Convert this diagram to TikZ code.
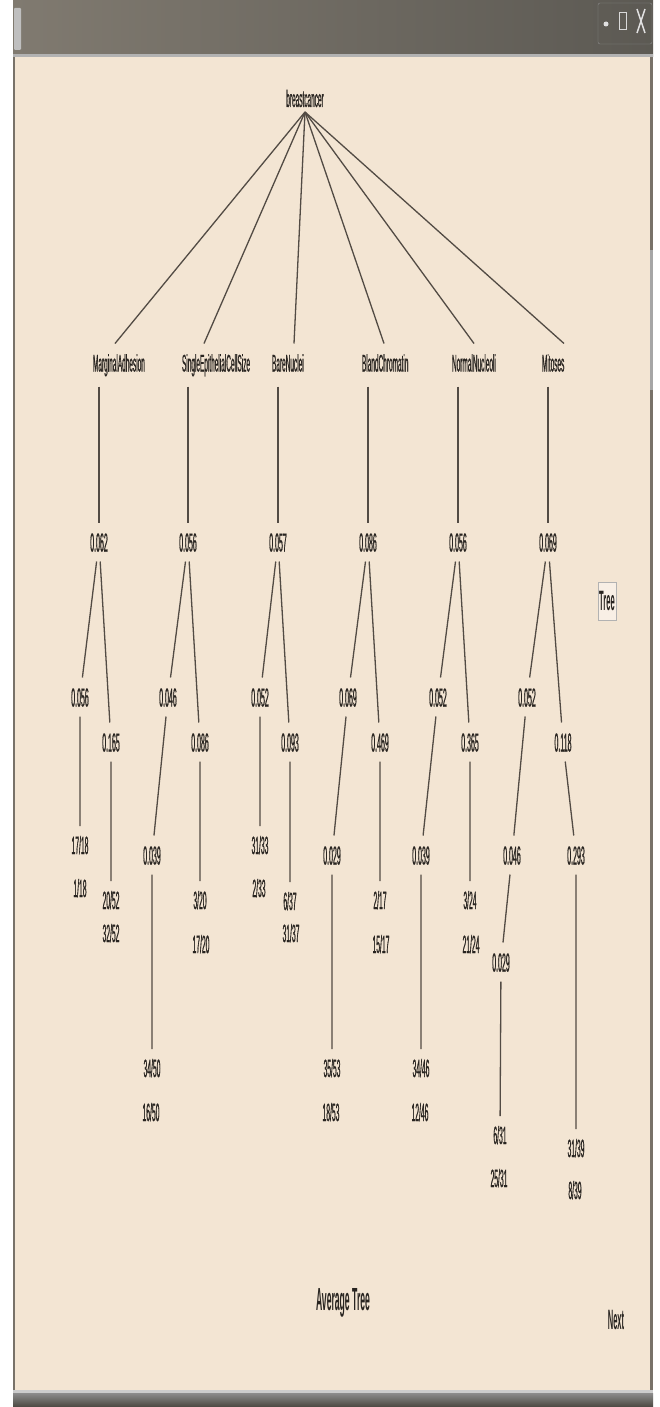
\documentclass[tikz,border=0pt]{standalone}
\usepackage{fontspec}
\setmainfont{Liberation Sans}
\newfontfamily\narrowsans[FakeStretch=0.27,FakeBold=0.6]{Liberation Sans}
\newfontfamily\narrowbold[FakeStretch=0.27]{Liberation Sans Bold}
\definecolor{panel}{RGB}{243,229,211}
\definecolor{ink}{RGB}{40,36,32}
\definecolor{wire}{RGB}{82,75,68}
\definecolor{chromeL}{RGB}{128,122,112}
\definecolor{chromeD}{RGB}{74,71,64}
\definecolor{edgegray}{RGB}{120,114,105}

\begin{document}
\begin{tikzpicture}[x=1pt,y=-1pt,
  top/.style={inner sep=0pt,outer sep=5pt,text height=18pt,text depth=0pt,text=ink,font=\narrowsans\fontsize{24}{26}\selectfont},
  attr/.style={anchor=west,inner sep=0pt,outer xsep=0pt,outer ysep=10pt,text height=18pt,text depth=5pt,text=ink,font=\narrowsans\fontsize{24}{26}\selectfont},
  val/.style={inner sep=0pt,outer sep=10pt,text height=19pt,text depth=0pt,text=ink,font=\narrowsans\fontsize{26}{28}\selectfont},
  leaf/.style={inner sep=0pt,outer sep=10pt,text height=18pt,text depth=0pt,text=ink,font=\narrowsans\fontsize{25}{27}\selectfont},
  wire/.style={draw=wire,line width=1.3pt}]
\path[use as bounding box] (0,0) rectangle (659,1407);
% window
\fill[white] (0,0) rectangle (659,1407);
\fill[panel] (13,57) rectangle (653,1393);
\shade[left color=chromeL,middle color=chromeD,right color=chromeD!90!white] (13,0) rectangle (653,57);
\fill[black!30] (13,54) rectangle (653,57);
\fill[black!25,rounded corners=1pt] (14,8) rectangle (21,50);
\draw[black!45,rounded corners=2pt] (598,3) rectangle (652,44);
\fill[black!12] (606,24) circle (2.5);
\draw[black!15,line width=1pt] (619,13) rectangle (626,30);
\draw[black!12,line width=1.5pt] (637,9) -- (645,33) (645,9) -- (637,33);
\fill[edgegray] (13,57) rectangle (15,1393);
\fill[edgegray] (650,57) rectangle (653,1393);
\fill[black!35] (650,250) rectangle (653,390);
\fill[black!20] (13,1390) rectangle (653,1393);
\shade[top color=black!45,bottom color=chromeD] (13,1393) rectangle (653,1407);
% tree top
\node[top] (root) at (305,98) {breastcancer};
\node[attr] (ma) at (93,365) {MarginalAdhesion};
\node[attr] (secs) at (182,365) {SingleEpithelialCellSize};
\node[attr] (bn) at (272,365) {BareNuclei};
\node[attr] (bc) at (362,365) {BlandChromatin};
\node[attr] (nn) at (452,365) {NormalNucleoli};
\node[attr] (mit) at (542,365) {Mitoses};
\foreach \a in {ma,secs,bn,bc,nn,mit}
  \draw[wire] (root.south) -- ([xshift=22pt]\a.north west);
% MarginalAdhesion
\node[val] (ma0) at (99,542) {0.062};
\node[val] (ma1) at (80,697) {0.056};
\node[val] (ma2) at (111,742) {0.165};
\node[leaf] (ma1a) at (80,845) {17/18};
\node[leaf] (ma1b) at (80,888) {1/18};
\node[leaf] (ma2a) at (111,900) {20/52};
\node[leaf] (ma2b) at (111,933) {32/52};
\draw[wire] (ma0 |- ma.south) -- (ma0);
\draw[wire] (ma0) -- (ma1) (ma0) -- (ma2) (ma1) -- (ma1a) (ma2) -- (ma2a);
% SingleEpithelialCellSize
\node[val] (secs0) at (188,542) {0.056};
\node[val] (secs1) at (168,697) {0.046};
\node[val] (secs2) at (200,742) {0.086};
\node[val] (secs1a) at (152,855) {0.039};
\node[leaf] (secs1b) at (152,1068) {34/50};
\node[leaf] (secs1c) at (151,1112) {16/50};
\node[leaf] (secs2a) at (200,900) {3/20};
\node[leaf] (secs2b) at (201,944) {17/20};
\draw[wire] (secs0 |- secs.south) -- (secs0);
\draw[wire] (secs0) -- (secs1) (secs0) -- (secs2) (secs1) -- (secs1a) (secs1a) -- (secs1b) (secs2) -- (secs2a);
% BareNuclei
\node[val] (bn0) at (278,542) {0.057};
\node[val] (bn1) at (260,697) {0.052};
\node[val] (bn2) at (290,742) {0.093};
\node[leaf] (bn1a) at (260,845) {31/33};
\node[leaf] (bn1b) at (259,888) {2/33};
\node[leaf] (bn2a) at (290,901) {6/37};
\node[leaf] (bn2b) at (291,933) {31/37};
\draw[wire] (bn0 |- bn.south) -- (bn0);
\draw[wire] (bn0) -- (bn1) (bn0) -- (bn2) (bn1) -- (bn1a) (bn2) -- (bn2a);
% BlandChromatin
\node[val] (bc0) at (368,542) {0.086};
\node[val] (bc1) at (348,697) {0.069};
\node[val] (bc2) at (380,742) {0.469};
\node[val] (bc1a) at (332,855) {0.029};
\node[leaf] (bc1b) at (332,1068) {35/53};
\node[leaf] (bc1c) at (331,1112) {18/53};
\node[leaf] (bc2a) at (380,900) {2/17};
\node[leaf] (bc2b) at (381,944) {15/17};
\draw[wire] (bc0 |- bc.south) -- (bc0);
\draw[wire] (bc0) -- (bc1) (bc0) -- (bc2) (bc1) -- (bc1a) (bc1a) -- (bc1b) (bc2) -- (bc2a);
% NormalNucleoli
\node[val] (nn0) at (458,542) {0.056};
\node[val] (nn1) at (438,697) {0.052};
\node[val] (nn2) at (470,742) {0.365};
\node[val] (nn1a) at (421,855) {0.039};
\node[leaf] (nn1b) at (421,1068) {34/46};
\node[leaf] (nn1c) at (420,1112) {12/46};
\node[leaf] (nn2a) at (470,900) {3/24};
\node[leaf] (nn2b) at (471,944) {21/24};
\draw[wire] (nn0 |- nn.south) -- (nn0);
\draw[wire] (nn0) -- (nn1) (nn0) -- (nn2) (nn1) -- (nn1a) (nn1a) -- (nn1b) (nn2) -- (nn2a);
% Mitoses
\node[val] (mit0) at (548,542) {0.069};
\node[val] (mit1) at (527,697) {0.052};
\node[val] (mit2) at (563,742) {0.118};
\node[val] (mit1a) at (512,855) {0.046};
\node[val] (mit1b) at (501,962) {0.029};
\node[leaf] (mit1c) at (500,1135) {6/31};
\node[leaf] (mit1d) at (499,1178) {25/31};
\node[val] (mit2a) at (576,855) {0.293};
\node[leaf] (mit2b) at (576,1148) {31/39};
\node[leaf] (mit2c) at (575,1190) {8/39};
\draw[wire] (mit0 |- mit.south) -- (mit0);
\draw[wire] (mit0) -- (mit1) (mit0) -- (mit2) (mit1) -- (mit1a) (mit1a) -- (mit1b) (mit1b) -- (mit1c) (mit2) -- (mit2a) (mit2a) -- (mit2b);
% buttons and caption
\node[draw=black!30,fill=panel!60!white,inner xsep=1pt,inner ysep=9pt,text=ink,font=\narrowbold\fontsize{28}{30}\selectfont] (treebtn) at (607,601) {Tree};
\node[text=ink,font=\narrowbold\fontsize{32}{34}\selectfont] (caption) at (343,1303) {Average Tree};
\node[text=ink,font=\narrowbold\fontsize{28}{30}\selectfont] (nextbtn) at (616,1320) {Next};
\end{tikzpicture}
\end{document}
